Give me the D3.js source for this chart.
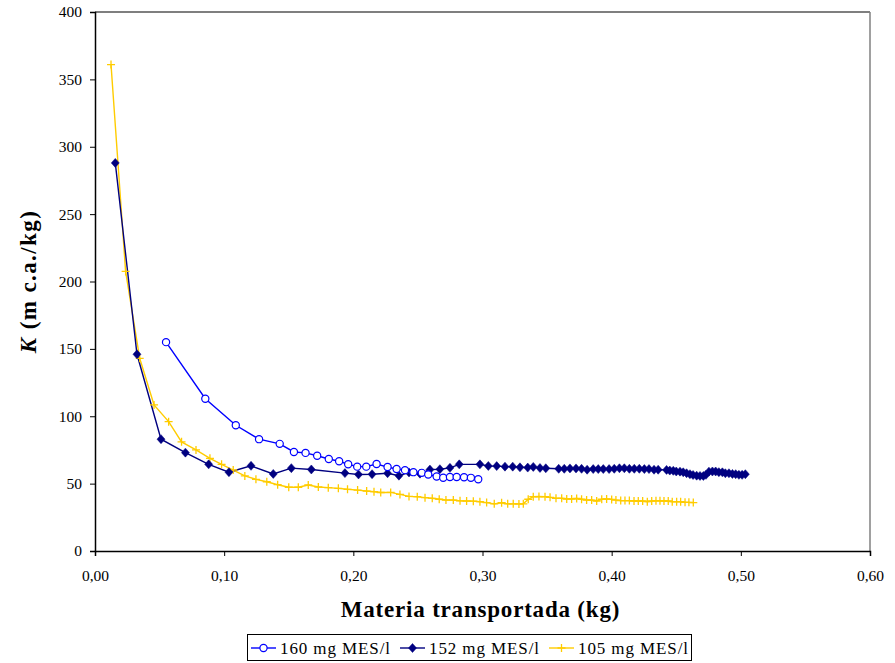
<!DOCTYPE html>
<html><head><meta charset="utf-8">
<script src="https://cdn.jsdelivr.net/npm/d3@7"></script>
<style>body{margin:0;background:#fff}svg{display:block}</style>
</head><body>
<svg id="c" width="895" height="663"></svg>
<script>
const xTicks = [0,0.1,0.2,0.3,0.4,0.5,0.6];
const yTicks = [0,50,100,150,200,250,300,350,400];
const seriesNames = ["160 mg MES/l","152 mg MES/l","105 mg MES/l"];

const x160 = [0.055,0.0854,0.109,0.127,0.143,0.154,0.163,0.172,0.181,0.189,0.196,0.203,0.210,0.218,0.2265,0.2335,0.240,0.2465,0.253,0.258,0.2645,0.2696,0.2748,0.280,0.2857,0.291,0.2967];
const y160 = [155,113,93.3,83,79.5,73.5,72.8,70.7,68.3,66.6,64.4,62.6,62.6,64.6,62.3,60.8,60,58.5,58,56.8,55.3,54.4,54.9,54.9,54.7,54.3,53.3];

const x152 = [0.0157,0.0325,0.0511,0.070,0.088,0.1037,0.1208,0.138,0.152,0.1675,0.1935,0.204,0.2145,0.2265,0.2353,0.2431,0.2516,0.2593,0.267,0.2748,0.282,0.298,0.3045,0.311,0.3174,0.3234,0.329,0.335,0.3393,0.3445,0.349,0.359,0.3633,0.3677,0.3724,0.3767,0.381,0.3857,0.3896,0.3935,0.398,0.402,0.406,0.4098,0.4137,0.4175,0.4214,0.4253,0.4289,0.4328,0.436,0.4425,0.445,0.4477,0.450,0.4529,0.4554,0.458,0.4606,0.463,0.4658,0.4684,0.471,0.473,0.4753,0.478,0.4805,0.483,0.4857,0.488,0.4908,0.4935,0.496,0.4985,0.501,0.5035];
const y152 = [288,146,83,73,64.3,58.5,63.2,57.2,61.5,60.5,57.8,56.8,57,57.7,55.9,58.3,57.4,60.4,60.7,61.7,64.3,64.3,63.1,63,62.6,62.6,62.1,61.9,62.4,61.6,61.4,61,61,61.3,61.3,61,60.3,60.8,60.8,60.8,60.8,61,61.4,61.4,61,61,61,60.8,60.8,60.3,60.3,60.2,59.7,59.5,59,58.9,58.4,57.7,57,56.4,55.9,55.7,55.7,56.5,58.9,59,59,58.5,58.4,57.7,57.7,57.2,57,56.5,56.5,57];

const x105 = [0.0124,0.0237,0.0346,0.0457,0.057,0.067,0.0782,0.089,0.098,0.107,0.116,0.1246,0.133,0.1414,0.150,0.1574,0.1651,0.1729,0.1806,0.1884,0.1955,0.2033,0.2103,0.216,0.2212,0.2289,0.2361,0.2431,0.2495,0.2555,0.2611,0.2665,0.2717,0.2774,0.2826,0.2877,0.2929,0.298,0.3032,0.3091,0.3148,0.3195,0.3238,0.3282,0.3316,0.3354,0.3393,0.3437,0.3484,0.3523,0.3569,0.3613,0.3652,0.369,0.3729,0.3767,0.3806,0.3845,0.3884,0.3923,0.3961,0.400,0.4033,0.407,0.4103,0.4137,0.4173,0.4206,0.424,0.4276,0.431,0.4343,0.4374,0.4405,0.4438,0.4469,0.4503,0.4534,0.4568,0.4598,0.4632];
const y105 = [361,207.5,143,108.4,96,81,75,68.8,64.3,60.1,55.7,53.2,51.4,49.2,47.3,47.3,49,47.5,47,46.5,45.8,45.2,44.5,44,43.4,43.5,42,40.5,40.3,39.6,39.1,38.4,37.8,37.8,37.2,37.1,37,36.6,35.9,35,35.8,35,35,34.9,35,38.4,40.3,40.4,40.3,39.8,39.1,39.1,38.6,38.6,39,38.4,37.8,37.8,37.1,38.4,38.6,38.3,37.8,37.4,37.4,37.4,37.1,37.1,37.1,36.6,37.1,37.3,37.3,37.1,37.1,36.6,36.6,36.6,36.1,36.1,35.9];

const svg = d3.select("#c");
const L=95,R=870,T=12,B=551;
const x = d3.scaleLinear().domain([0,0.6]).range([L,R]);
const y = d3.scaleLinear().domain([0,400]).range([B,T]);
const font = "'Liberation Serif', 'Times New Roman', serif";
const fmt = d => d3.format(".2f")(d).replace(".", ",");

// frame
svg.append("line").attr("x1",L).attr("x2",R).attr("y1",T).attr("y2",T).attr("stroke","#000").attr("stroke-width",1.2);
svg.append("line").attr("x1",R).attr("x2",R).attr("y1",T).attr("y2",B).attr("stroke","#808080").attr("stroke-width",1.5);

const gx = svg.append("g").attr("transform",`translate(0,${B})`)
  .call(d3.axisBottom(x).tickValues(xTicks).tickSize(5).tickPadding(14).tickFormat(fmt));
const gy = svg.append("g").attr("transform",`translate(${L},0)`)
  .call(d3.axisLeft(y).tickValues(yTicks).tickSize(5).tickPadding(8));
[gx,gy].forEach(g=>{
  g.select(".domain").attr("stroke","#000").attr("stroke-width",1.5);
  g.selectAll(".tick line").attr("stroke","#000");
  g.selectAll("text").attr("font-family",font).attr("font-size",15.5).attr("fill","#000");
});

// titles
svg.append("text").attr("x",(L+R)/2 - 2).attr("y",617).attr("text-anchor","middle")
  .attr("font-family",font).attr("font-size",23).attr("letter-spacing",0.8).attr("font-weight","bold").text("Materia transportada (kg)");
const yt = svg.append("text").attr("transform",`translate(36,${(T+B)/2}) rotate(-90)`).attr("text-anchor","middle")
  .attr("font-family",font).attr("font-size",23).attr("font-weight","bold").attr("letter-spacing",1.4);
yt.append("tspan").attr("font-style","italic").text("K");
yt.append("tspan").text(" (m c.a./kg)");

const line = d3.line().x(d=>x(d[0])).y(d=>y(d[1]));
const zip = (a,b)=>a.map((v,i)=>[v,b[i]]);
const s160 = zip(x160,y160), s152 = zip(x152,y152), s105 = zip(x105,y105);

const cols = ["#0000FF","#000080","#FFCC00"];

function drawLine(data,col){
  svg.append("path").datum(data).attr("d",line).attr("fill","none").attr("stroke",col).attr("stroke-width",1.4);
}
drawLine(s105,cols[2]);
drawLine(s152,cols[1]);
drawLine(s160,cols[0]);

function plus(g,cx,cy,col){
  g.append("path").attr("d",`M${cx-4},${cy}H${cx+4}M${cx},${cy-4}V${cy+4}`).attr("stroke",col).attr("stroke-width",1.3).attr("fill","none");
}
function diamond(g,cx,cy,col){
  g.append("path").attr("d",`M${cx},${cy-4.5}L${cx+4},${cy}L${cx},${cy+4.5}L${cx-4},${cy}Z`).attr("fill",col).attr("stroke",col).attr("stroke-width",0.5);
}
function circ(g,cx,cy,col){
  g.append("circle").attr("cx",cx).attr("cy",cy).attr("r",3.6).attr("fill","#fff").attr("stroke",col).attr("stroke-width",1.2);
}
const m105 = svg.append("g"); s105.forEach(d=>plus(m105,x(d[0]),y(d[1]),cols[2]));
const m152 = svg.append("g"); s152.forEach(d=>diamond(m152,x(d[0]),y(d[1]),cols[1]));
const m160 = svg.append("g"); s160.forEach(d=>circ(m160,x(d[0]),y(d[1]),cols[0]));

// legend
const lg = svg.append("g");
lg.append("rect").attr("x",247.5).attr("y",634.5).attr("width",444).attr("height",26).attr("fill","#fff").attr("stroke","#000").attr("stroke-width",1);
const lx = [251,400,549];
const markers = [circ,diamond,plus];
seriesNames.forEach((n,i)=>{
  const cy=648;
  lg.append("line").attr("x1",lx[i]).attr("x2",lx[i]+25).attr("y1",cy).attr("y2",cy).attr("stroke",cols[i]).attr("stroke-width",1.4);
  markers[i](lg,lx[i]+12.5,cy,cols[i]);
  lg.append("text").attr("x",lx[i]+29).attr("y",cy+5.5).attr("font-family",font).attr("font-size",17).attr("letter-spacing",0.9).text(n);
});
</script>
</body></html>
